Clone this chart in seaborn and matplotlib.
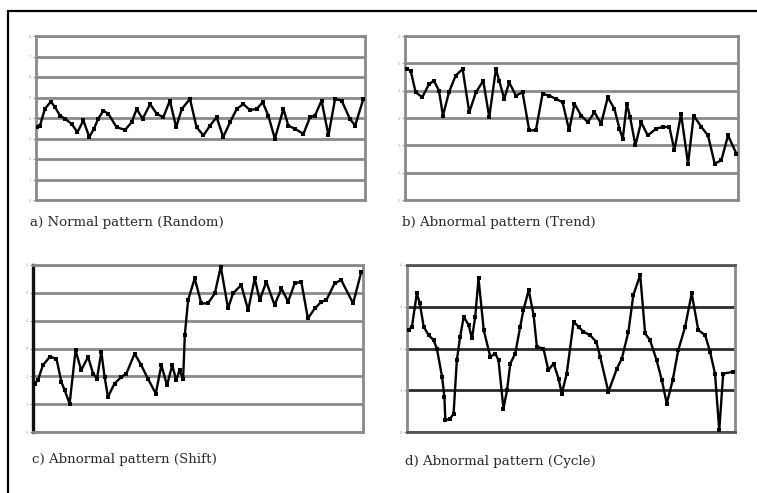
import matplotlib
matplotlib.use("Agg")
import matplotlib.pyplot as plt
import seaborn as sns
import pandas as pd
from matplotlib.lines import Line2D

sns.set_style("white")

# ---------------- data ----------------
# time axis is expressed as percent of the run (0-100)
t_a = [0.4, 1.2, 2.7, 4.5, 5.8, 7.3, 8.8, 10.8, 12.6, 14.4, 16.2, 17.6, 18.9, 20.5, 22.0,
       24.5, 27.1, 29.1, 30.6, 32.4, 34.7, 36.7, 38.7, 40.7, 42.6, 44.3, 46.8, 48.8, 50.9,
       52.9, 54.9, 56.9, 59.0, 61.0, 63.0, 65.0, 67.1, 68.9, 70.6, 72.6, 75.2, 76.7, 78.7,
       81.3, 83.3, 84.8, 86.8, 88.9, 90.9, 92.9, 95.4, 97.0, 99.5]
y_a = [3.55, 3.63, 4.44, 4.80, 4.52, 4.12, 3.96, 3.72, 3.31, 3.88, 3.07, 3.47, 3.96, 4.36,
       4.20, 3.55, 3.42, 3.80, 4.44, 3.96, 4.68, 4.20, 4.04, 4.85, 3.55, 4.44, 4.93, 3.55,
       3.15, 3.63, 4.04, 3.07, 3.80, 4.44, 4.68, 4.39, 4.44, 4.77, 4.12, 2.99, 4.44, 3.63,
       3.47, 3.23, 4.04, 4.12, 4.85, 3.15, 4.93, 4.85, 3.96, 3.63, 4.93]

t_b = [0.7, 1.7, 3.2, 5.2, 7.2, 8.7, 10.2, 11.4, 13.2, 15.2, 17.3, 19.3, 21.3, 23.5, 25.3,
       27.3, 28.3, 29.8, 31.3, 33.3, 35.3, 37.3, 39.3, 41.3, 43.3, 45.3, 47.3, 49.3, 50.9,
       52.9, 54.9, 56.9, 58.9, 60.9, 62.9, 64.4, 65.4, 66.6, 67.6, 69.2, 70.9, 72.9, 75.4,
       77.4, 79.4, 80.9, 82.9, 85.0, 86.7, 89.0, 91.0, 93.0, 95.0, 97.0, 99.5]
y_b = [4.79, 4.73, 3.94, 3.76, 4.24, 4.36, 4.00, 3.09, 3.94, 4.55, 4.79, 3.21, 3.94, 4.36,
       3.03, 4.79, 4.36, 3.70, 4.30, 3.82, 3.94, 2.55, 2.55, 3.88, 3.82, 3.70, 3.58, 2.55,
       3.52, 3.09, 2.85, 3.21, 2.79, 3.76, 3.33, 2.61, 2.24, 3.52, 3.03, 2.00, 2.85, 2.36,
       2.61, 2.67, 2.67, 1.82, 3.15, 1.33, 3.09, 2.67, 2.36, 1.33, 1.45, 2.36, 1.70]

t_c = [0.5, 1.5, 3.0, 5.1, 7.1, 8.6, 9.6, 11.1, 12.9, 14.6, 16.7, 18.2, 19.4, 20.7, 21.7,
       22.7, 24.7, 26.8, 28.3, 30.8, 32.8, 34.8, 37.2, 38.9, 40.6, 42.2, 43.4, 44.4, 45.5,
       46.0, 47.0, 49.0, 51.0, 53.0, 55.1, 56.9, 59.1, 60.6, 63.1, 65.2, 67.2, 68.7, 70.7,
       73.2, 75.3, 77.3, 79.3, 81.3, 83.3, 85.4, 87.4, 88.9, 91.4, 93.4, 97.0, 99.5]
y_c = [1.74, 1.86, 2.40, 2.70, 2.64, 1.80, 1.50, 1.02, 2.94, 2.22, 2.70, 2.10, 1.92, 2.88,
       1.98, 1.26, 1.74, 1.98, 2.10, 2.82, 2.40, 1.92, 1.38, 2.40, 1.68, 2.40, 1.86, 2.22,
       1.92, 3.48, 4.74, 5.52, 4.62, 4.62, 4.98, 5.94, 4.44, 4.98, 5.28, 4.38, 5.52, 4.74,
       5.40, 4.56, 5.16, 4.68, 5.34, 5.40, 4.08, 4.44, 4.68, 4.74, 5.34, 5.46, 4.62, 5.76]

t_d = [0.5, 1.5, 3.0, 3.9, 5.1, 6.6, 8.1, 9.1, 10.7, 11.4, 11.7, 13.2, 14.2, 15.2, 16.2,
       17.3, 18.8, 19.8, 20.8, 21.8, 23.4, 25.4, 26.9, 27.9, 29.4, 30.5, 31.5, 33.0, 34.5,
       35.5, 37.1, 38.6, 39.6, 41.6, 43.1, 44.7, 46.2, 47.2, 48.7, 50.8, 52.3, 53.8, 55.8,
       57.7, 58.9, 61.4, 64.0, 65.5, 67.5, 69.0, 71.1, 72.6, 74.1, 76.1, 77.7, 79.2, 81.0,
       82.7, 84.8, 86.8, 88.8, 90.9, 92.4, 93.9, 95.2, 96.4, 99.5]
y_d = [2.44, 2.52, 3.32, 3.08, 2.52, 2.32, 2.20, 2.00, 1.32, 0.84, 0.28, 0.32, 0.44, 1.72,
       2.28, 2.76, 2.56, 2.24, 2.76, 3.68, 2.44, 1.80, 1.88, 1.72, 0.56, 1.00, 1.64, 1.88,
       2.52, 2.92, 3.40, 2.80, 2.04, 2.00, 1.48, 1.64, 1.28, 0.92, 1.40, 2.64, 2.52, 2.40,
       2.32, 2.16, 1.80, 0.96, 1.52, 1.76, 2.40, 3.28, 3.76, 2.36, 2.20, 1.72, 1.24, 0.68,
       1.24, 1.96, 2.52, 3.32, 2.44, 2.32, 1.92, 1.40, 0.04, 1.40, 1.44]

captions = ["a) Normal pattern (Random)", "b) Abnormal pattern (Trend)",
            "c) Abnormal pattern (Shift)", "d) Abnormal pattern (Cycle)"]
y_max = [8, 6, 6, 4]

# ---------------- figure ----------------
W, H = 757, 493
fig = plt.figure(figsize=(W / 100, H / 100), dpi=100)
fig.patch.set_facecolor("white")

def box(l, r, t, b):
    return [l / W, 1 - b / H, (r - l) / W, (b - t) / H]

# outer frame (left and top edges visible)
fig.add_artist(Line2D([8 / W, 8 / W], [0, 1 - 11 / H], transform=fig.transFigure,
                      color="black", lw=1.6))
fig.add_artist(Line2D([8 / W, 1], [1 - 11 / H, 1 - 11 / H], transform=fig.transFigure,
                      color="black", lw=1.6))

panels = [
    (box(36, 365, 36, 200), t_a, y_a),
    (box(405, 738, 36, 200), t_b, y_b),
    (box(33, 363, 265, 432), t_c, y_c),
    (box(407, 735, 265, 432), t_d, y_d),
]
cap_pos = [(30, 222), (402, 223), (32, 459), (405, 462)]

for i, (rect, t, y) in enumerate(panels):
    ax = fig.add_axes(rect)
    df = pd.DataFrame({"t": t, "v": y})
    sns.lineplot(data=df, x="t", y="v", ax=ax, color="black", lw=1.7,
                 marker="s", markersize=2.8, markeredgewidth=0, zorder=5)
    ax.set_xlim(0, 100)
    ax.set_ylim(0, y_max[i])
    ax.set_xlabel("")
    ax.set_ylabel("")
    ax.set_xticks([])
    ticks = list(range(0, y_max[i] + 1))
    ax.set_yticks(ticks)
    ax.set_yticklabels([str(v) for v in ticks], fontsize=2.5, color="#9a9a9a")
    ax.tick_params(axis="y", length=2, width=0.8, color="#9a9a9a", pad=1.5, left=True)
    grid_col = "#2a2a2a" if i == 3 else "#8a8a8a"
    ax.yaxis.grid(True, color=grid_col, lw=2.0, zorder=1)
    ax.set_axisbelow(True)
    for name, sp in ax.spines.items():
        sp.set_visible(True)
        sp.set_color("#8a8a8a")
        sp.set_linewidth(2.0)
    if i == 2:
        ax.spines["left"].set_color("#111111")
        ax.spines["left"].set_linewidth(2.4)
    if i == 3:
        ax.spines["top"].set_color("#555555")
        ax.spines["bottom"].set_color("#555555")
    cx, cy = cap_pos[i]
    fig.text(cx / W, 1 - cy / H, captions[i], fontsize=9.6, family="DejaVu Serif",
             color="#2a2a2a", va="center", ha="left")

fig.savefig("out.png", dpi=100, facecolor="white")
